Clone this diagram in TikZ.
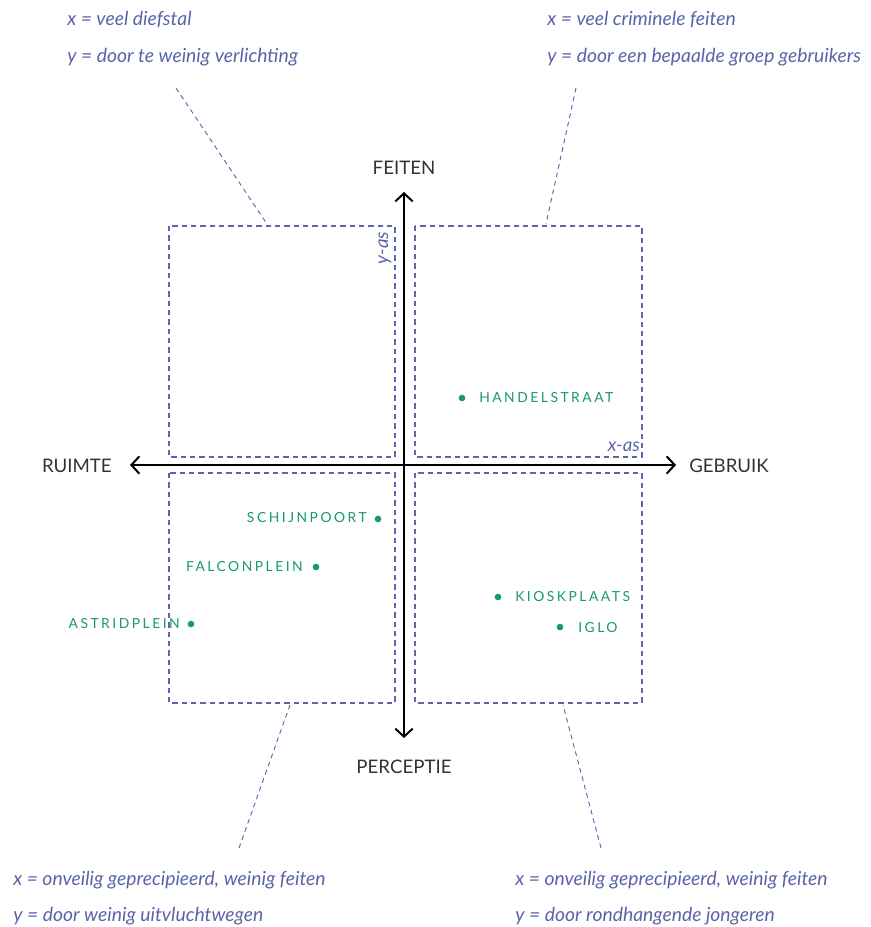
\documentclass[tikz,border=0pt]{standalone}
\usepackage{fontspec}
\setmainfont{Lato}
\usetikzlibrary{arrows.meta}
\definecolor{bluetxt}{HTML}{5A63A8}
\definecolor{dashc}{HTML}{5D66AA}
\definecolor{greenc}{HTML}{17977A}
\definecolor{axtxt}{HTML}{333333}
\tikzset{
  quad/.style={draw=dashc, line width=0.9pt, dash pattern=on 4pt off 3pt},
  leader/.style={draw=dashc, line width=0.7pt, dash pattern=on 3.5pt off 3pt},
  axis/.style={draw=black, line width=1.5pt, -{Straight Barb[length=6pt,width=13pt,line width=1.5pt]}},
  axlabel/.style={font=\fontsize{14}{16}\selectfont, text=axtxt, inner sep=0pt},
  note/.style={font=\fontsize{14.5}{17}\selectfont\itshape, text=bluetxt, inner sep=0pt, anchor=west},
  place/.style={font=\fontsize{10.4}{12}\selectfont\addfontfeature{LetterSpace=18}, text=greenc, inner sep=0pt},
  dot/.style={circle, fill=greenc, inner sep=0pt, minimum size=5pt},
  aslabel/.style={font=\fontsize{14}{16}\selectfont\itshape, text=bluetxt, inner sep=0pt}
}
\begin{document}
\begin{tikzpicture}[x=0.75pt,y=-0.75pt]
\useasboundingbox (0,0) rectangle (870,927);
% quadrant boxes
\draw[quad] (169,226) rectangle (395,457);
\draw[quad] (415,226) rectangle (642,457);
\draw[quad] (169,473) rectangle (395,703);
\draw[quad] (415,473) rectangle (642,703);
% axis labels
\node[axlabel] (feiten) at (404,168) {FEITEN};
\node[axlabel] (perceptie) at (404,767) {PERCEPTIE};
\node[axlabel, anchor=east] (ruimte) at (112,466) {RUIMTE};
\node[axlabel, anchor=west] (gebruik) at (689,466) {GEBRUIK};
\coordinate (c) at (404,465);
\coordinate (ytop) at (404,192);
\coordinate (ybot) at (404,738);
\coordinate (xl) at (130,465);
\coordinate (xr) at (676,465);
\draw[axis] (c) -- (ytop);
\draw[axis] (c) -- (ybot);
\draw[axis] (c) -- (xl);
\draw[axis] (c) -- (xr);
\node[aslabel, rotate=90] (yas) at (385,248) {y-as};
\node[aslabel, anchor=east] (xas) at (640,447) {x-as};
% places
\node[dot] (d1) at (462,398) {};
\node[place, anchor=west] (l1) at (479,398) {HANDELSTRAAT};
\node[dot] (d2) at (378,519) {};
\node[place, anchor=east] (l2) at (367,518) {SCHIJNPOORT};
\node[dot] (d3) at (316,567) {};
\node[place, anchor=east] (l3) at (303,567) {FALCONPLEIN};
\node[dot] (d4) at (191,624) {};
\node[place, anchor=east] (l4) at (180,624) {ASTRIDPLEIN};
\node[dot] (d5) at (498,597) {};
\node[place, anchor=west] (l5) at (515,597) {KIOSKPLAATS};
\node[dot] (d6) at (560,627) {};
\node[place, anchor=west] (l6) at (578,628) {IGLO};
% notes
\node[note] (n1a) at (67,20) {x = veel diefstal};
\node[note] (n1b) at (67,57) {y = door te weinig verlichting};
\node[note] (n2a) at (547,20) {x = veel criminele feiten};
\node[note] (n2b) at (547,57) {y = door een bepaalde groep gebruikers};
\node[note] (n3a) at (13,880) {x = onveilig geprecipieerd, weinig feiten};
\node[note] (n3b) at (13,916) {y = door weinig uitvluchtwegen};
\node[note] (n4a) at (515,880) {x = onveilig geprecipieerd, weinig feiten};
\node[note] (n4b) at (515,916) {y = door rondhangende jongeren};
% leaders
\coordinate (a1) at (176,88); \coordinate (b1) at (267,224);
\coordinate (a2) at (576,88); \coordinate (b2) at (546,224);
\coordinate (a3) at (239,848); \coordinate (b3) at (290,705);
\coordinate (a4) at (601,848); \coordinate (b4) at (563,705);
\draw[leader] (a1) -- (b1);
\draw[leader] (a2) -- (b2);
\draw[leader] (a3) -- (b3);
\draw[leader] (a4) -- (b4);
\end{tikzpicture}
\end{document}
